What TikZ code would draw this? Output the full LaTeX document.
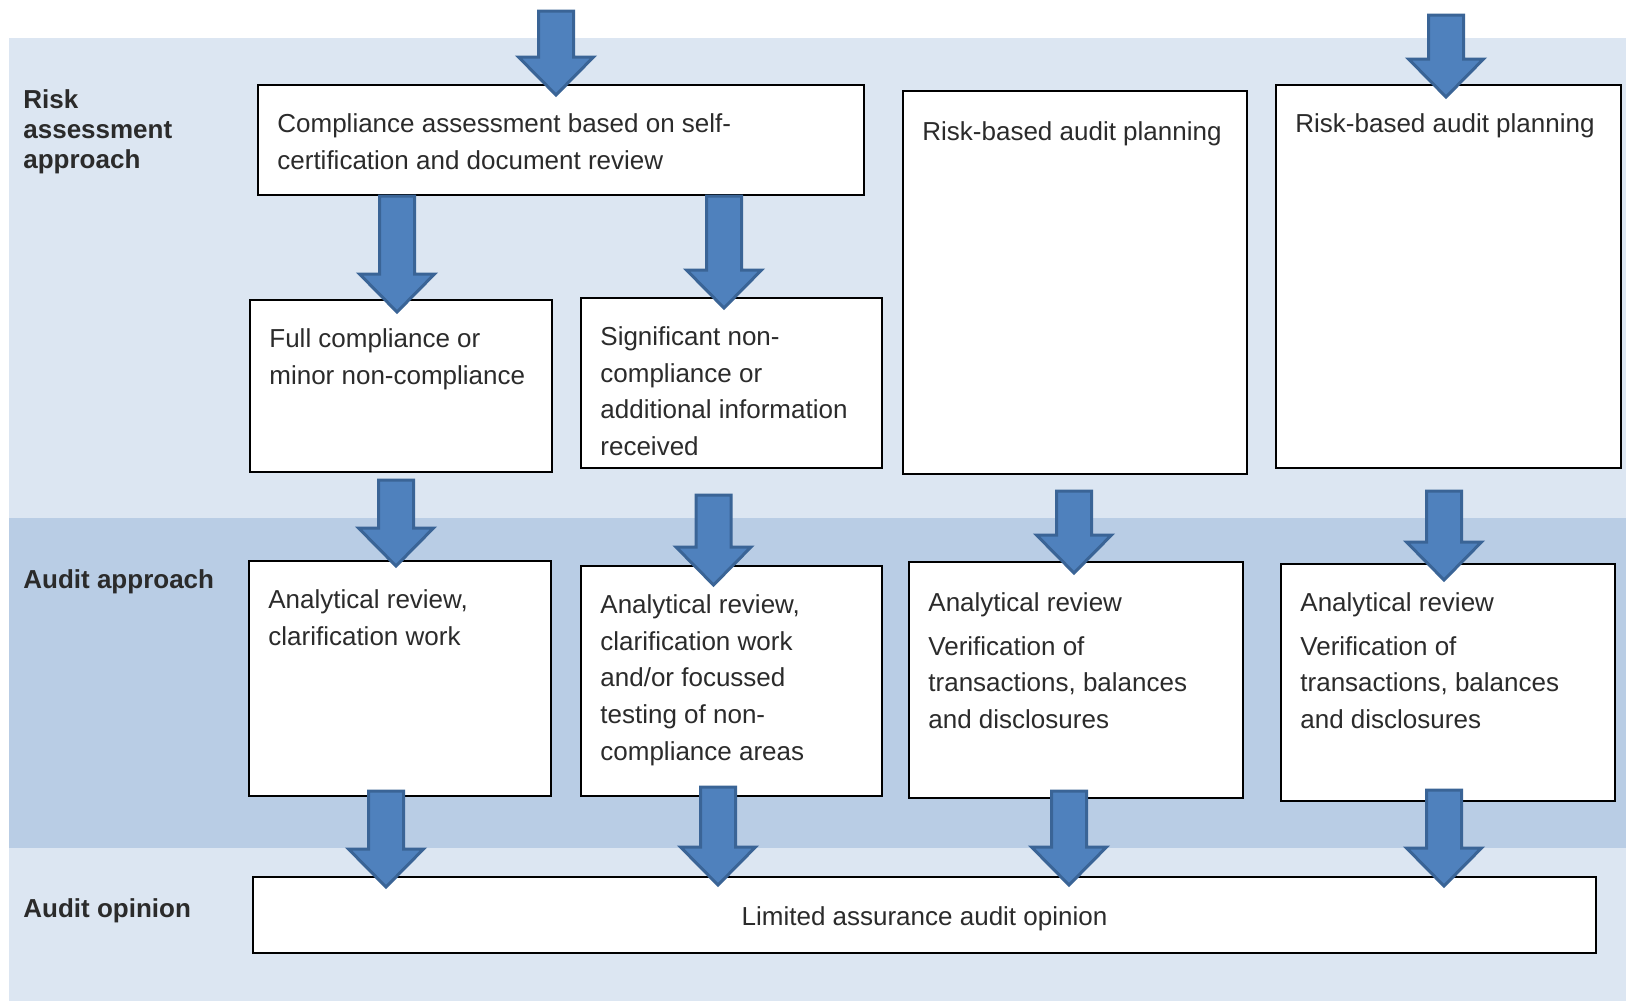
\documentclass[tikz,border=0pt]{standalone}
\usepackage{fontspec}
\setmainfont{Liberation Sans}
\usetikzlibrary{calc,positioning}
\definecolor{bandlight}{HTML}{DCE6F2}
\definecolor{banddark}{HTML}{B9CDE5}
\definecolor{arrowfill}{HTML}{4F81BD}
\definecolor{arrowline}{HTML}{3A6496}
\definecolor{textgray}{HTML}{2B2B2B}
\tikzset{
    box/.style={draw=black, fill=white, line width=1pt, inner sep=0pt, anchor=north west},
    boxtext/.style={anchor=north west, inner sep=0pt, align=left, text=textgray,
        font=\fontsize{13}{18.4}\selectfont},
    rowlabel/.style={anchor=north west, inner sep=0pt, align=left, text=textgray,
        font=\bfseries\fontsize{13}{15}\selectfont},
    bigarrow/.style={fill=arrowfill, draw=arrowline, line width=1.5pt, line join=miter}
}
% block arrow from #1 (top, gives x) down to the height of #2 (tip)
\newcommand{\blockarrow}[2]{%
    \draw[bigarrow] let \p1=(#1), \p2=(#2) in
        (\x1-8.75pt,\y1) -- (\x1+8.75pt,\y1) -- (\x1+8.75pt,\y2+19pt)
        -- (\x1+18.75pt,\y2+19pt) -- (\x1,\y2) -- (\x1-18.75pt,\y2+19pt)
        -- (\x1-8.75pt,\y2+19pt) -- cycle;}

\begin{document}
\begin{tikzpicture}[x=0.5pt, y=-0.5pt]
    \useasboundingbox (0,0) rectangle (1626,1001);
    \fill[white] (0,0) rectangle (1626,1001);
    % bands
    \fill[bandlight] (9,38) rectangle (1626,1001);
    \fill[banddark] (9,518) rectangle (1626,848);

    \node[rowlabel] (lblrisk) at (23,89) {Risk\\assessment\\approach};
    \node[rowlabel] (lblaudit) at (23,569) {Audit approach};
    \node[rowlabel] (lblopinion) at (23,898) {Audit opinion};

    % boxes
    \node[box, minimum width=303, minimum height=55] (cmp) at (257,84) {};
    \node[box, minimum width=151, minimum height=86] (full) at (249,299) {};
    \node[box, minimum width=150.5, minimum height=85] (sig) at (580,297) {};
    \node[box, minimum width=172, minimum height=191.5] (rbA) at (902,90) {};
    \node[box, minimum width=172.5, minimum height=191.5] (rbB) at (1275,84) {};
    \node[box, minimum width=151, minimum height=117.5] (anA) at (248,560) {};
    \node[box, minimum width=150.5, minimum height=115] (anB) at (580,565) {};
    \node[box, minimum width=167, minimum height=118] (anC) at (908,561) {};
    \node[box, minimum width=167, minimum height=118.5] (anD) at (1280,563) {};
    \node[box, minimum width=671.5, minimum height=38, text=textgray,
        text height=13.5pt, text depth=2.7pt,
        font=\fontsize{13}{18.4}\selectfont] (lim) at (252,876) {Limited assurance audit opinion};

    \node[boxtext] (cmptext) at ([shift={(20,29)}]cmp.north west)
        {Compliance assessment based on self-\\certification and document review};
    \node[boxtext] (fulltext) at ([shift={(20,29)}]full.north west)
        {Full compliance or\\minor non-compliance};
    \node[boxtext] (sigtext) at ([shift={(20,29)}]sig.north west)
        {Significant non-\\compliance or\\additional information\\received};
    \node[boxtext] (rbAtext) at ([shift={(20,31)}]rbA.north west) {Risk-based audit planning};
    \node[boxtext] (rbBtext) at ([shift={(20,29)}]rbB.north west) {Risk-based audit planning};
    \node[boxtext] (anAtext) at ([shift={(20,29)}]anA.north west)
        {Analytical review,\\clarification work};
    \node[boxtext] (anBtext) at ([shift={(20,29)}]anB.north west)
        {Analytical review,\\clarification work\\and/or focussed\\testing of non-\\compliance areas};
    \node[boxtext] (anCtext) at ([shift={(20,31)}]anC.north west)
        {Analytical review\\[3.5pt]Verification of\\transactions, balances\\and disclosures};
    \node[boxtext] (anDtext) at ([shift={(20,29)}]anD.north west)
        {Analytical review\\[3.5pt]Verification of\\transactions, balances\\and disclosures};

    % arrows
    \coordinate (inA) at (556,11);
    \coordinate (inB) at (1446,15);
    \blockarrow{inA}{[shift={(0,11)}]cmp.north}
    \blockarrow{inB}{[shift={(0,13)}]rbB.north}
    \blockarrow{[shift={(140,0)}]cmp.south west}{[shift={(0,13)}]full.north}
    \blockarrow{[shift={(467,0)}]cmp.south west}{[shift={(0,11)}]sig.north}
    \blockarrow{[shift={(-5,7)}]full.south}{[shift={(0,6)}]anA.north}
    \blockarrow{[shift={(-18,26)}]sig.south}{[shift={(0,20)}]anB.north}
    \blockarrow{[shift={(-1,16)}]rbA.south}{[shift={(0,12)}]anC.north}
    \blockarrow{[shift={(-4.5,22)}]rbB.south}{[shift={(0,17)}]anD.north}
    \blockarrow{[shift={(-14,-6)}]anA.south}{[shift={(0,11)}]lim.north}
    \blockarrow{[shift={(-13.5,-10)}]anB.south}{[shift={(0,9)}]lim.north}
    \blockarrow{[shift={(-7,-8)}]anC.south}{[shift={(0,9)}]lim.north}
    \blockarrow{[shift={(-4,-12)}]anD.south}{[shift={(0,10)}]lim.north}
\end{tikzpicture}
\end{document}
